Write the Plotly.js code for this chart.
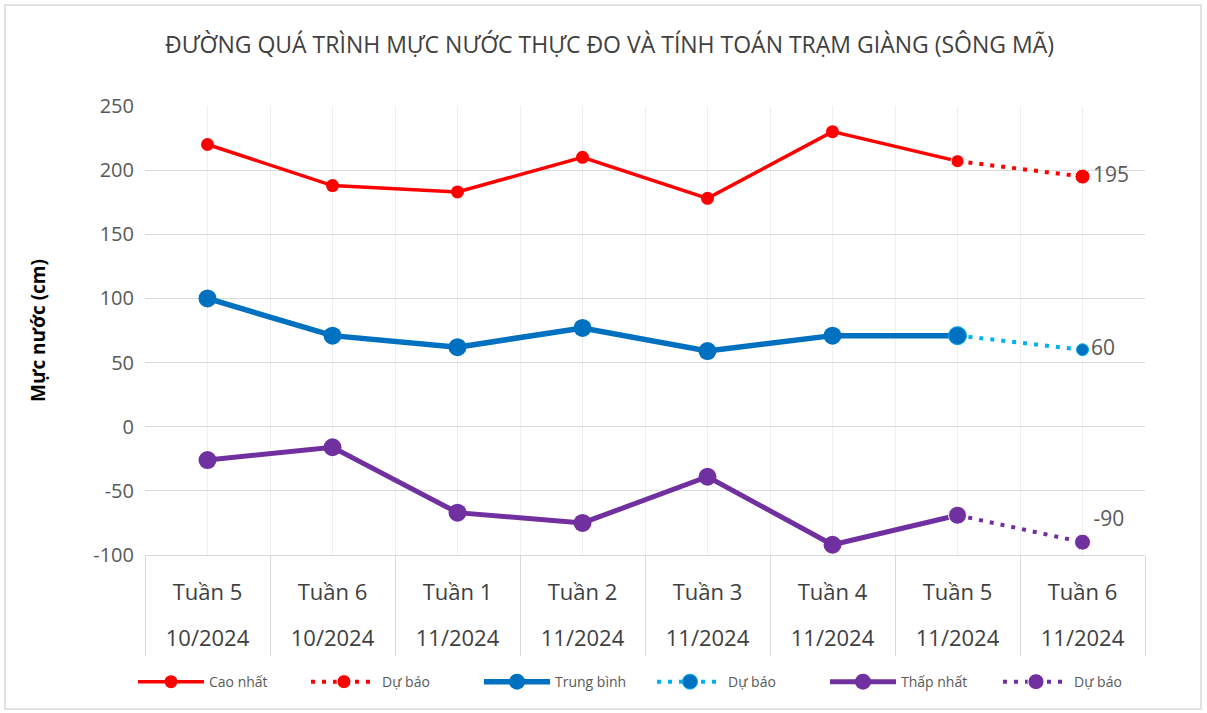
<!DOCTYPE html>
<html>
<head>
<meta charset="utf-8">
<script src="https://cdn.plot.ly/plotly-3.0.1.min.js"></script>
<style>
  html, body { margin: 0; padding: 0; background: #fff; }
  #chart { width: 1207px; height: 713px; }
</style>
</head>
<body>
<div id="chart"></div>
<script>
// chart data
const weeks = ["Tuần 5", "Tuần 6", "Tuần 1", "Tuần 2", "Tuần 3", "Tuần 4", "Tuần 5", "Tuần 6"];
const months = ["10/2024", "10/2024", "11/2024", "11/2024", "11/2024", "11/2024", "11/2024", "11/2024"];
const yTicks = [-100, -50, 0, 50, 100, 150, 200, 250];

// observed (first 7 weeks)
const highObs = [220, 188, 183, 210, 178, 230, 207];
const meanObs = [100, 71, 62, 77, 59, 71, 71];
const lowObs = [-26, -16, -67, -75, -39, -92, -69];

// forecast: last observed week -> forecast week
const highFc = [207, 195];
const meanFc = [71, 60];
const lowFc = [-69, -90];

const xAll = weeks.map((_, i) => i);
const xObs = xAll.slice(0, highObs.length);
const xFc = xAll.slice(-2);

const labelFont = { family: "Open Sans, sans-serif", size: 21, color: "#595959" };

const traces = [
  {
    x: xObs, y: highObs, name: "Cao nhất", mode: "lines+markers",
    line: { color: "#ff0000", width: 3.5 },
    marker: { color: "#ff0000", size: 13 },
  },
  {
    x: xFc, y: highFc, name: "Dự báo", mode: "lines+markers+text",
    line: { color: "#ff0000", width: 4, dash: "4px,7px" },
    marker: { color: "#ff0000", size: [13, 15], opacity: 1 },
    text: ["", String(highFc[1])], textposition: "middle right",
    textfont: labelFont,
  },
  {
    x: xObs, y: meanObs, name: "Trung bình", mode: "lines+markers",
    line: { color: "#0070c0", width: 5.5 },
    marker: { color: "#0070c0", size: 18 },
  },
  {
    x: xFc, y: meanFc, name: "Dự báo", mode: "lines+markers+text",
    line: { color: "#00b0f0", width: 4, dash: "4px,7px" },
    marker: { color: "#0070c0", size: [18, 12], opacity: 1 },
    text: ["", String(meanFc[1])], textposition: "middle right",
    textfont: labelFont,
  },
  {
    x: xObs, y: lowObs, name: "Thấp nhất", mode: "lines+markers",
    line: { color: "#7030a0", width: 5 },
    marker: { color: "#7030a0", size: 18 },
  },
  {
    x: xFc, y: lowFc, name: "Dự báo", mode: "lines+markers+text",
    line: { color: "#7030a0", width: 4, dash: "4px,7px" },
    marker: { color: "#7030a0", size: [18, 16], opacity: 1 },
    text: ["", String(lowFc[1])], textposition: "top right",
    textfont: labelFont,
  },
  // invisible carrier for the second row of category labels
  {
    x: xAll, y: xAll.map(() => null), xaxis: "x2", mode: "markers",
    showlegend: false, hoverinfo: "skip",
  },
];

const layout = {
  width: 1207,
  height: 713,
  margin: { l: 145, r: 62, t: 106, b: 158 },
  paper_bgcolor: "#ffffff",
  plot_bgcolor: "#ffffff",
  font: { family: "Open Sans, sans-serif", color: "#595959" },
  title: {
    text: "ĐƯỜNG QUÁ TRÌNH MỰC NƯỚC THỰC ĐO VÀ TÍNH TOÁN TRẠM GIÀNG (SÔNG MÃ)",
    font: { size: 23, color: "#404040" },
    x: 0.505, xanchor: "center",
    y: 0.937, yanchor: "middle",
  },
  xaxis: {
    range: [-0.5, 7.5],
    tickvals: xAll,
    ticktext: weeks,
    tickfont: { size: 22, color: "#404040" },
    ticks: "",
    ticklabelstandoff: 18,
    showgrid: true,
    gridcolor: "#efefef",
    gridwidth: 1,
    zeroline: false,
    showline: true,
    linecolor: "#d9d9d9",
    minor: {
      tick0: -0.5, dtick: 1,
      ticks: "outside", ticklen: 100, tickcolor: "#d9d9d9", tickwidth: 1,
      showgrid: true, gridcolor: "#efefef", gridwidth: 1,
    },
    fixedrange: true,
  },
  xaxis2: {
    overlaying: "x",
    side: "bottom",
    anchor: "y",
    range: [-0.5, 7.5],
    tickvals: xAll,
    ticktext: months,
    tickfont: { size: 22, color: "#404040" },
    ticks: "",
    ticklabelstandoff: 68,
    showgrid: false,
    zeroline: false,
    showline: false,
    fixedrange: true,
  },
  yaxis: {
    range: [-100, 250],
    tickvals: yTicks,
    ticktext: yTicks.map(String),
    tickfont: { size: 20, color: "#595959" },
    gridcolor: "#d9d9d9",
    gridwidth: 1,
    zeroline: false,
    showline: false,
    ticklabelstandoff: 10,
    title: {
      text: "<b>Mực nước (cm)</b>",
      font: { size: 19, color: "#000000" },
      standoff: 42,
    },
    fixedrange: true,
  },
  legend: {
    orientation: "h",
    x: -0.012, xanchor: "left",
    y: -0.283, yanchor: "middle",
    font: { size: 14, color: "#595959" },
    itemwidth: 66,
    entrywidth: 92,
    traceorder: "normal",
  },
  shapes: [
    // outer chart border
    {
      type: "rect", xref: "paper", yref: "paper",
      x0: -0.14, x1: 1.056, y0: -0.343, y1: 1.225,
      line: { color: "#d9d9d9", width: 1.5 },
      layer: "below",
    },
  ],
  showlegend: true,
  hovermode: false,
};

Plotly.newPlot("chart", traces, layout, { displayModeBar: false, staticPlot: true });
</script>
</body>
</html>
